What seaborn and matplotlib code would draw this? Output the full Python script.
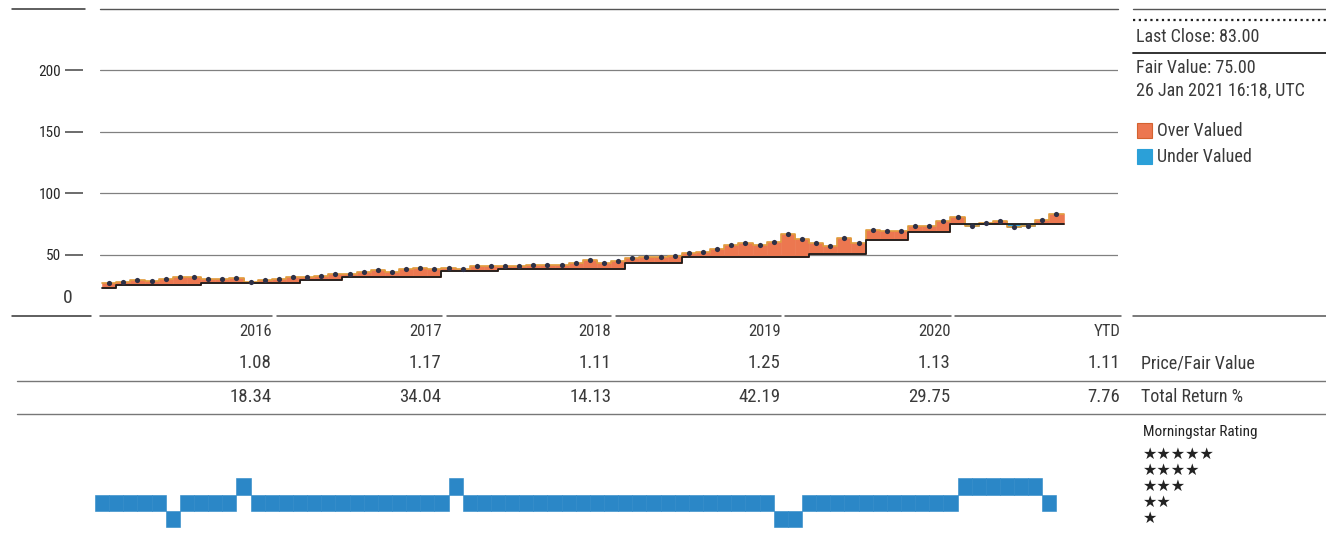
import matplotlib
matplotlib.use("Agg")
import numpy as np
import pandas as pd
import matplotlib.pyplot as plt
import seaborn as sns
from matplotlib.transforms import blended_transform_factory
from matplotlib.lines import Line2D
from matplotlib.patches import Rectangle

# Month-end closing price (one value per month)
price = [27.1, 27.7, 29.3, 28.8, 29.9, 32.0, 31.5, 29.9, 30.1, 30.9, 27.9, 29.0,
         30.4, 32.0, 31.5, 32.6, 34.5, 34.0, 35.6, 37.2, 35.8, 38.3, 39.1, 38.5,
         39.4, 38.0, 40.7, 40.7, 41.0, 41.0, 41.2, 41.5, 41.5, 42.9, 45.6, 43.4,
         45.0, 47.0, 48.3, 48.3, 48.9, 51.0, 51.8, 54.3, 57.8, 59.2, 57.8, 60.5,
         66.8, 62.4, 59.7, 57.0, 63.2, 59.7, 70.0, 69.5, 69.2, 73.3, 73.6, 77.4,
         80.9, 73.3, 75.5, 77.6, 72.7, 73.3, 78.2, 83.0]

# Analyst fair value estimate for each month
fair_value = [23.0, 25.0, 25.0, 25.0, 25.0, 25.0, 25.0, 26.5, 26.5, 26.5, 26.5, 26.5,
              26.5, 26.5, 29.5, 29.5, 29.5, 32.0, 32.0, 32.0, 32.0, 32.0, 32.0, 32.0,
              36.5, 36.5, 36.5, 36.5, 38.5, 38.5, 38.5, 38.5, 38.5, 38.5, 38.5, 38.5,
              38.5, 43.4, 43.4, 43.4, 43.4, 48.3, 48.3, 48.3, 48.3, 48.3, 48.3, 48.3,
              48.3, 48.3, 50.5, 50.5, 50.5, 50.5, 62.0, 62.0, 62.0, 68.0, 68.0, 68.0,
              75.0, 75.0, 75.0, 75.0, 75.0, 75.0, 75.0, 75.0]

# Star rating for each month
rating = [2, 2, 2, 2, 2, 1, 2, 2, 2, 2, 3, 2,
          2, 2, 2, 2, 2, 2, 2, 2, 2, 2, 2, 2,
          2, 3, 2, 2, 2, 2, 2, 2, 2, 2, 2, 2,
          2, 2, 2, 2, 2, 2, 2, 2, 2, 2, 2, 2,
          1, 1, 2, 2, 2, 2, 2, 2, 2, 2, 2, 2,
          2, 3, 3, 3, 3, 3, 3, 2]

# Annual summary table
years = ["2016", "2017", "2018", "2019", "2020", "YTD"]
price_to_fv = [1.08, 1.17, 1.11, 1.25, 1.13, 1.11]
total_return = [18.34, 34.04, 14.13, 42.19, 29.75, 7.76]
year_end_month = [12, 24, 36, 48, 60, 72]

y_ticks = [50, 100, 150, 200]
last_update = "26 Jan 2021 16:18, UTC"

ORANGE = "#ec7750"
ORANGE_EDGE = "#d4622f"
CYAN = "#2ba0d8"
RATING_BLUE = "#2b87c7"
TEXT = "#3a3a3a"
GRID = "#808080"

sns.set_theme(style="white")
plt.rcParams["font.family"] = ["Roboto Condensed", "Liberation Sans Narrow",
                               "DejaVu Sans Condensed", "Roboto", "DejaVu Sans"]
plt.rcParams["text.color"] = TEXT

W, H = 1326, 538
fig = plt.figure(figsize=(W / 100, H / 100), dpi=100)
fig.patch.set_facecolor("white")


def fx(px):
    return px / W


def fy(py):
    return 1 - py / H


def hline(x0, x1, y, **kw):
    fig.add_artist(Line2D([fx(x0), fx(x1)], [fy(y), fy(y)], transform=fig.transFigure, **kw))


df = pd.DataFrame({"month": np.arange(len(price)), "price": price,
                   "fair_value": fair_value, "rating": rating})
df["gap"] = df["price"] - df["fair_value"]
df["color"] = np.where(df["gap"] >= 0, ORANGE, CYAN)

XLIM = (-0.15, 71.85)

# ---- price vs fair value panel ----
ax = fig.add_axes([fx(100), fy(316), fx(1118) - fx(100), fy(9) - fy(316)])
ax.set_xlim(*XLIM)
ax.set_ylim(0, 250)
for v in y_ticks:
    ax.axhline(v, color=GRID, lw=0.9, zorder=0)

ax.bar(df["month"], df["gap"], bottom=df["fair_value"], width=1.0, align="edge",
       color=df["color"], edgecolor=df["color"], linewidth=0.4, zorder=2)

edges = np.arange(len(price) + 1)
price_ext = list(price) + [price[-1]]
fv_ext = list(fair_value) + [fair_value[-1]]
ax.step(edges, price_ext, where="post", color="#e09a3a", lw=1.2, zorder=3)
ax.step(edges, fv_ext, where="post", color="#1a1a1a", lw=1.3, zorder=4)
sns.scatterplot(x=df["month"] + 0.5, y=df["price"], ax=ax, color="#2d3047",
                s=14, linewidth=0, zorder=5, legend=False)

ax.set_xticks([])
ax.set_yticks(y_ticks)
ax.set_yticklabels([str(v) for v in y_ticks], fontsize=14, color=TEXT)
for side in ["top", "right", "bottom"]:
    ax.spines[side].set_visible(False)
ax.spines["left"].set_position(("outward", 12))
ax.spines["left"].set_visible(False)
ax.tick_params(axis="y", left=True, length=13, width=1.1, color="#444444", pad=3)
ax.set_xlabel("")
ax.set_ylabel("")
ax.text(-0.027, 15, "0", transform=ax.get_yaxis_transform(), ha="right", va="center",
        fontsize=14, color=TEXT)
ax.patch.set_alpha(0)

# frame lines of the chart and table
hline(12, 85, 9, color="#333333", lw=1.1)
hline(100, 1118, 9, color="#555555", lw=1.0)
hline(1133, 1326, 9, color="#555555", lw=1.0)
hline(12, 91, 316, color="#333333", lw=1.1)
for a, b in [(100, 272), (277, 442), (447, 611), (616, 781), (785, 951), (955, 1121), (1133, 1326)]:
    hline(a, b, 316, color="#555555", lw=1.1)
hline(17, 1326, 381, color="#777777", lw=1.0)
hline(17, 1326, 414, color="#777777", lw=1.0)

# ---- annual table ----
tx = blended_transform_factory(ax.transData, fig.transFigure)
for m, yr, pf, tr in zip(year_end_month, years, price_to_fv, total_return):
    fig.text(m, fy(331), yr, transform=tx, ha="right", va="center", fontsize=12)
    fig.text(m, fy(363), f"{pf:.2f}", transform=tx, ha="right", va="center", fontsize=13.5)
    fig.text(m, fy(397), f"{tr:.2f}", transform=tx, ha="right", va="center", fontsize=13.5)
fig.text(fx(1141), fy(363), "Price/Fair Value", ha="left", va="center", fontsize=13)
fig.text(fx(1141), fy(397), "Total Return %", ha="left", va="center", fontsize=13)

# ---- side panel ----
hline(1133, 1326, 20, color="#222222", lw=1.6, linestyle=(0, (1, 1.6)))
fig.text(fx(1136), fy(37), f"Last Close: {price[-1]:.2f}", ha="left", va="center", fontsize=13)
hline(1133, 1326, 53, color="#222222", lw=1.3)
fig.text(fx(1136), fy(68), f"Fair Value: {fair_value[-1]:.2f}", ha="left", va="center", fontsize=13)
fig.text(fx(1136), fy(90), last_update, ha="left", va="center", fontsize=13)
fig.add_artist(Rectangle((fx(1137), fy(138)), fx(15), fy(0) - fy(15), transform=fig.transFigure,
                         facecolor=ORANGE, edgecolor=ORANGE_EDGE, lw=0.8))
fig.text(fx(1157), fy(131), "Over Valued", ha="left", va="center", fontsize=13)
fig.add_artist(Rectangle((fx(1137), fy(164)), fx(15), fy(0) - fy(15), transform=fig.transFigure,
                         facecolor=CYAN, edgecolor=CYAN, lw=0.8))
fig.text(fx(1157), fy(157), "Under Valued", ha="left", va="center", fontsize=13)

# ---- rating strip ----
rax = fig.add_axes([fx(100), fy(527), fx(1118) - fx(100), fy(446) - fy(527)])
rax.set_xlim(*XLIM)
rax.set_ylim(0.5, 5.5)
rax.bar(df["month"], 1.0, bottom=df["rating"] - 0.5, width=1.0, align="center",
        color=RATING_BLUE, edgecolor=RATING_BLUE, linewidth=0.4, clip_on=False)
rax.axis("off")

fig.text(fx(1143), fy(432), "Morningstar Rating", ha="left", va="center", fontsize=11,
         color="#222222")
sx = blended_transform_factory(fig.transFigure, rax.transData)
for k in range(1, 6):
    fig.text(fx(1143), k, "\u2605" * k, transform=sx, ha="left", va="center",
             fontsize=11.5, color="#222222", family=["DejaVu Sans"])

fig.savefig("out.png", dpi=100, facecolor="white")
